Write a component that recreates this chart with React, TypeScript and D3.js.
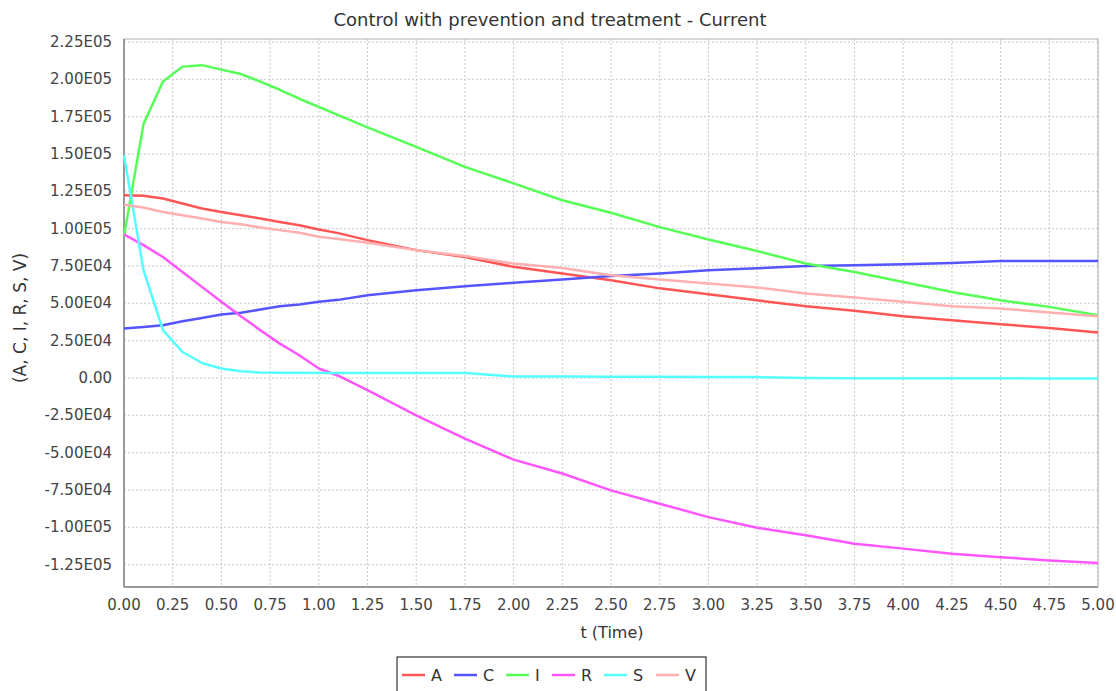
import React from "react";
import * as d3 from "d3";

const times = [0, 0.1, 0.2, 0.3, 0.4, 0.5, 0.6, 0.7, 0.8, 0.9, 1.0, 1.1, 1.25, 1.5, 1.75, 2.0, 2.25, 2.5, 2.75, 3.0, 3.25, 3.5, 3.75, 4.0, 4.25, 4.5, 4.75, 5.0];

const seriesA = [122400, 122000, 120200, 116800, 113500, 111200, 109000, 106800, 104500, 102300, 99400, 97000, 92300, 85600, 81000, 74400, 70000, 65500, 60000, 56000, 52000, 48000, 45000, 41300, 38700, 36000, 33500, 30400];
const seriesC = [33100, 34200, 35300, 38000, 40200, 42500, 43600, 45800, 48000, 49200, 51000, 52300, 55400, 58800, 61400, 63700, 66000, 68200, 70000, 72200, 73500, 74900, 75500, 76200, 77000, 78400, 78400, 78400];
const seriesI = [95000, 170000, 198500, 208500, 209500, 206500, 203500, 198500, 193000, 187000, 181600, 176000, 167800, 154800, 141400, 130300, 119000, 110600, 101000, 92700, 85000, 76600, 71000, 64300, 57600, 52000, 47600, 42000];
const seriesR = [96100, 89000, 81000, 71000, 61000, 51000, 41300, 32000, 23000, 15200, 6300, 1500, -8200, -25000, -40600, -54700, -64000, -75300, -84200, -93200, -100300, -105400, -111000, -114300, -117700, -120000, -122200, -124000];
const seriesS = [149200, 72200, 32000, 17400, 10000, 6300, 4500, 3600, 3500, 3500, 3400, 3400, 3400, 3400, 3300, 1000, 900, 800, 800, 700, 600, 0, -200, -200, -200, -200, -300, -300];
const seriesV = [116000, 114200, 111200, 109000, 106800, 104500, 103000, 100800, 99000, 97200, 94500, 93000, 90500, 85600, 81600, 76600, 73700, 68800, 66000, 63300, 60600, 56500, 53900, 51000, 48000, 46500, 43800, 41300];

const seriesNames = ["A", "C", "I", "R", "S", "V"];
const seriesColors = ["#ff5555", "#5555ff", "#55ff55", "#ff55ff", "#55ffff", "#ffafaf"];
const seriesValues = [seriesA, seriesC, seriesI, seriesR, seriesS, seriesV];

const xTicks = d3.range(0, 5.001, 0.25);
const yTicks = d3.range(-125000, 225001, 25000);

const W = 1116;
const H = 691;
const left = 124;
const right = 1098;
const top = 39;
const bottom = 587;
const font = "'DejaVu Sans', sans-serif";

// 2.25E05 style labels
function sci(v: number) {
  if (Math.abs(v) < 1e-9) return "0.00";
  const e = Math.floor(Math.log10(Math.abs(v)));
  const m = v / Math.pow(10, e);
  return m.toFixed(2) + "E" + String(e).padStart(2, "0");
}

const App = () => {
  const x = d3.scaleLinear().domain([0, 5]).range([left, right]);
  const y = d3.scaleLinear().domain([-140000, 227000]).range([bottom, top]);

  const line = d3
    .line<number>()
    .x((d, i) => x(times[i]))
    .y((d) => y(d));

  // legend layout
  let lx = 402;
  const legendItems = seriesNames.map((name, i) => {
    const item = { name, color: seriesColors[i], x: lx };
    lx += 23 + 7 + (name === "I" ? 5 : 11) + 11;
    return item;
  });

  return (
    <svg width={W} height={H} style={{ position: "absolute", left: 0, top: 0, background: "#fff" }}>
      <text x={550} y={26} textAnchor="middle" fontFamily={font} fontSize={18} fill="#333">
        Control with prevention and treatment - Current
      </text>

      <rect x={left} y={top} width={right - left} height={bottom - top} fill="#fff" />

      {xTicks.slice(1).map((t) => (
        <line key={"gx" + t} x1={x(t)} x2={x(t)} y1={top} y2={bottom} stroke="#c8c8c8" strokeDasharray="2,2" />
      ))}
      {yTicks.map((v) => (
        <line key={"gy" + v} x1={left} x2={right} y1={y(v)} y2={y(v)} stroke="#c8c8c8" strokeDasharray="2,2" />
      ))}

      <rect x={left} y={top} width={right - left} height={bottom - top} fill="none" stroke="#b0b0b0" strokeWidth={1} />
      <line x1={left} x2={left} y1={top} y2={bottom} stroke="#999" strokeWidth={2} />
      <line x1={left} x2={right} y1={bottom} y2={bottom} stroke="#999" strokeWidth={2} />

      {seriesValues.map((vals, i) => (
        <path
          key={seriesNames[i]}
          d={line(vals) || ""}
          fill="none"
          stroke={seriesColors[i]}
          strokeWidth={2.5}
          strokeLinejoin="round"
        />
      ))}

      {yTicks.map((v) => (
        <text key={"ty" + v} x={112} y={y(v) + 5} textAnchor="end" fontFamily={font} fontSize={15} fill="#444">
          {sci(v)}
        </text>
      ))}
      {xTicks.map((t) => (
        <text key={"tx" + t} x={x(t)} y={610} textAnchor="middle" fontFamily={font} fontSize={15} fill="#444">
          {t.toFixed(2)}
        </text>
      ))}

      <text x={612} y={638} textAnchor="middle" fontFamily={font} fontSize={16} fill="#333">
        t (Time)
      </text>
      <text
        transform={"translate(26," + 318 + ") rotate(-90)"}
        textAnchor="middle"
        fontFamily={font}
        fontSize={17}
        fill="#333"
      >
        (A, C, I, R, S, V)
      </text>

      <rect x={397} y={657} width={309} height={36} fill="#fff" stroke="#333" strokeWidth={1.2} />
      {legendItems.map((it) => (
        <g key={"lg" + it.name}>
          <line x1={it.x} x2={it.x + 23} y1={675} y2={675} stroke={it.color} strokeWidth={2.5} />
          <text x={it.x + 29} y={681} fontFamily={font} fontSize={16} fill="#333">
            {it.name}
          </text>
        </g>
      ))}
    </svg>
  );
};

export default App;
